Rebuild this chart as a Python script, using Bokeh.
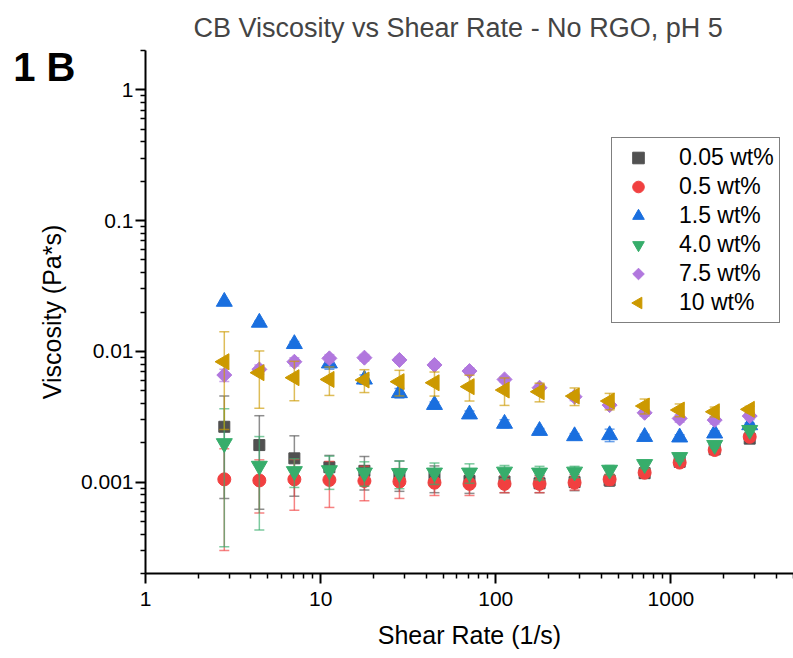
import numpy as np
from bokeh.plotting import figure
from bokeh.models import (Range1d, FixedTicker, CustomJSTickFormatter, Legend,
                          LegendItem, ColumnDataSource, CustomJS, LogAxis)
from bokeh.embed import file_html
from bokeh.resources import INLINE

# ---------------- data ----------------
shear_rate = [2.818, 4.467, 7.079, 11.22, 17.78, 28.18, 44.67, 70.79,
              112.2, 177.8, 281.8, 446.7, 707.9, 1122, 1778, 2818]

labels = ["0.05 wt%", "0.5 wt%", "1.5 wt%", "4.0 wt%", "7.5 wt%", "10 wt%"]

visc_005 = [0.00265, 0.00192, 0.00152, 0.00130, 0.00122, 0.00115, 0.00108, 0.00102,
            0.00101, 0.00098, 0.00100, 0.00103, 0.00117, 0.00143, 0.00178, 0.00215]
err_005 = [0.0019, 0.0013, 0.00074, 0.0003, 0.00035, 0.0003, 0.00025, 0.0002,
           0.00018, 0.00015, 0.00014, 0.0001, 0.0001, 0.0001, 0.0001, 0.00008]

visc_05 = [0.00105, 0.00103, 0.00105, 0.00104, 0.00102, 0.00101, 0.00099, 0.00097,
           0.00097, 0.00097, 0.00099, 0.00105, 0.00118, 0.00141, 0.00176, 0.00222]
err_05 = [0.00075, 0.00045, 0.00044, 0.0004, 0.0003, 0.00026, 0.0002, 0.00018,
          0.00014, 0.00014, 0.00012, 0.0001, 0.00008, 0.00008, 0.00008, 0.0001]

visc_15 = [0.0240, 0.0166, 0.0114, 0.0081, 0.0061, 0.0048, 0.0039, 0.0033,
           0.0028, 0.00247, 0.00225, 0.00229, 0.00222, 0.0022, 0.00236, 0.00273]
err_15 = [0.0005, 0.0005, 0.0005, 0.0008, 0.0005, 0.0004, 0.0002, 0.0002,
          0.0002, 0.0001, 0.0001, 0.00025, 0.0001, 0.0001, 0.0001, 0.0001]

visc_40 = [0.00198, 0.00133, 0.00121, 0.00123, 0.00118, 0.00117, 0.00118, 0.00118,
           0.00120, 0.00118, 0.00120, 0.00124, 0.00137, 0.00155, 0.00192, 0.00250]
err_40 = [0.00166, 0.0009, 0.0003, 0.00035, 0.00025, 0.00028, 0.00022, 0.0002,
          0.00014, 0.00014, 0.00012, 0.0001, 0.0001, 0.0001, 0.0001, 0.0001]

visc_75 = [0.00659, 0.00728, 0.00833, 0.00884, 0.00895, 0.0086, 0.00787, 0.00707,
           0.0061, 0.00527, 0.0045, 0.00388, 0.00339, 0.00307, 0.00298, 0.0032]
err_75 = [0.0007, 0.0006, 0.0006, 0.0006, 0.0005, 0.0004, 0.0004, 0.0004,
          0.0003, 0.0003, 0.0003, 0.0002, 0.0002, 0.0002, 0.0002, 0.0002]

visc_10 = [0.00833, 0.00687, 0.00629, 0.0061, 0.00604, 0.00586, 0.00575, 0.00537,
           0.00506, 0.00491, 0.00455, 0.00417, 0.00382, 0.00356, 0.00345, 0.0036]
err_10 = [0.0058, 0.0032, 0.0021, 0.0015, 0.0012, 0.0013, 0.0012, 0.0012,
          0.0012, 0.0008, 0.0007, 0.0006, 0.0005, 0.0004, 0.0003, 0.0002]

x_ticks = [1, 10, 100, 1000]
y_ticks = [0.001, 0.01, 0.1, 1]
panel_tag = "1 B"

colors = ["#515151", "#F14040", "#1A6FDF", "#37AD6B", "#B177DE", "#CC9900"]

FONT = "Liberation Sans"

# custom marker shapes (Origin-like diamond and left-pointing triangle)
DIAMOND_JS = CustomJS(code="""
const {ctx, i, r, visuals} = cb_data;
ctx.moveTo(0, -r); ctx.lineTo(r, 0); ctx.lineTo(0, r); ctx.lineTo(-r, 0);
ctx.closePath();
visuals.fill.apply(ctx, i);
visuals.line.apply(ctx, i);
""")
LEFT_TRI_JS = CustomJS(code="""
const {ctx, i, r, visuals} = cb_data;
const a = r*Math.sqrt(3)/3;
ctx.moveTo(-2*a, 0); ctx.lineTo(a, -r); ctx.lineTo(a, r);
ctx.closePath();
visuals.fill.apply(ctx, i);
visuals.line.apply(ctx, i);
""")

p = figure(width=793, height=658, x_axis_type="log", y_axis_type="log",
           x_range=Range1d(1, 5012), y_range=Range1d(0.0002, 2),
           output_backend="svg", toolbar_location=None,
           min_border_left=145, min_border_right=0,
           min_border_top=50, min_border_bottom=85)
p.background_fill_color = "white"
p.border_fill_color = "white"
p.outline_line_color = None
p.xgrid.visible = False
p.ygrid.visible = False

p.title.text = "CB Viscosity vs Shear Rate - No RGO, pH 5"
p.title.text_font = FONT
p.title.text_font_size = "27px"
p.title.text_font_style = "normal"
p.title.align = "left"
p.title.offset = 48
p.title.standoff = 16

x_minor = [m * d for d in [1, 10, 100, 1000] for m in range(2, 10) if m * d <= 5000]
y_minor = [m * d for d in [0.0001, 0.001, 0.01, 0.1, 1] for m in range(2, 10)
           if 0.0002 <= m * d <= 2]
p.xaxis.ticker = FixedTicker(ticks=x_ticks, minor_ticks=x_minor)
p.yaxis.ticker = FixedTicker(ticks=y_ticks, minor_ticks=y_minor)
fmt = CustomJSTickFormatter(code="return tick.toString();")
p.xaxis.formatter = fmt
p.yaxis.formatter = fmt

for ax in (p.xaxis, p.yaxis):
    ax.axis_line_width = 2
    ax.axis_line_color = "black"
    ax.major_tick_line_width = 2
    ax.minor_tick_line_width = 1.5
    ax.major_tick_out = 10
    ax.major_tick_in = 0
    ax.minor_tick_out = 5
    ax.minor_tick_in = 0
    ax.major_label_text_font = FONT
    ax.major_label_text_font_size = "21px"
    ax.major_label_text_color = "black"
    ax.axis_label_text_font = FONT
    ax.axis_label_text_font_size = "25px"
    ax.axis_label_text_font_style = "normal"
    ax.axis_label_text_color = "black"
p.xaxis.axis_label = "Shear Rate (1/s)"
p.yaxis.axis_label = "Viscosity (Pa*s)"
p.xaxis.major_label_standoff = 8
p.yaxis.major_label_standoff = 2
p.xaxis.axis_label_standoff = 12
p.yaxis.axis_label_standoff = 12

series_vals = [visc_005, visc_05, visc_15, visc_40, visc_75, visc_10]
series_errs = [err_005, err_05, err_15, err_40, err_75, err_10]

# marker spec per series: (marker, size, defs, fallback marker, fallback angle)
marker_specs = [
    ("square", 11, None, "square", 0),
    ("circle", 13, None, "circle", 0),
    ("triangle", 16, None, "triangle", 0),
    ("inverted_triangle", 16, None, "inverted_triangle", 0),
    ("@odiamond", 15, {"@odiamond": DIAMOND_JS}, "square", np.pi / 4),
    ("@lefttri", 16, {"@lefttri": LEFT_TRI_JS}, "triangle", np.pi / 2),
]

items = []
for lab, v, e, c, spec in zip(labels, series_vals, series_errs, colors, marker_specs):
    mk, sz, defs, fb_mk, fb_ang = spec
    v = np.array(v)
    e = np.array(e)
    src = ColumnDataSource(dict(x=shear_rate, y=v, lo=v - e, hi=v + e))
    p.segment(x0="x", y0="lo", x1="x", y1="hi", source=src,
              line_color=c, line_alpha=0.65, line_width=1.5)
    for col in ("lo", "hi"):
        p.scatter(x="x", y=col, marker="dash", size=10, source=src,
                  line_color=c, line_alpha=0.65, line_width=1.5)
    r = None
    if defs is not None:
        try:
            r = p.scatter(x="x", y="y", marker=mk, defs=defs, size=sz, source=src,
                          fill_color=c, line_color=c, line_width=1)
        except Exception:
            r = None
        if r is None:
            r = p.scatter(x="x", y="y", marker=fb_mk, size=sz if fb_ang == 0 else 11,
                          angle=fb_ang, source=src,
                          fill_color=c, line_color=c, line_width=1)
    else:
        r = p.scatter(x="x", y="y", marker=mk, size=sz, source=src,
                      fill_color=c, line_color=c, line_width=1)
    items.append(LegendItem(label=lab, renderers=[r]))

legend = Legend(items=items, location=(466, 250))
legend.label_text_font = FONT
legend.label_text_font_size = "23px"
legend.label_text_color = "black"
legend.border_line_color = "black"
legend.border_line_width = 1
legend.background_fill_color = "white"
legend.padding = 5
legend.margin = 0
legend.spacing = 0
legend.glyph_width = 42
legend.glyph_height = 29
legend.label_height = 29
legend.label_standoff = 20
p.add_layout(legend)

# panel tag "1 B": shown as the single tick label of a bare extra axis on the left
tag_axis = LogAxis(ticker=FixedTicker(ticks=[1.5], minor_ticks=[]),
                   formatter=CustomJSTickFormatter(args=dict(tag=panel_tag),
                                                   code="return tag;"))
tag_axis.axis_line_color = None
tag_axis.major_tick_line_color = None
tag_axis.minor_tick_line_color = None
tag_axis.major_tick_out = 0
tag_axis.major_tick_in = 0
tag_axis.minor_tick_out = 0
tag_axis.minor_tick_in = 0
tag_axis.major_label_standoff = -41
tag_axis.major_label_text_font = FONT
tag_axis.major_label_text_font_size = "40px"
tag_axis.major_label_text_font_style = "bold"
tag_axis.major_label_text_color = "black"
p.add_layout(tag_axis, "left")

open("out.html", "w").write(file_html(p, INLINE))
